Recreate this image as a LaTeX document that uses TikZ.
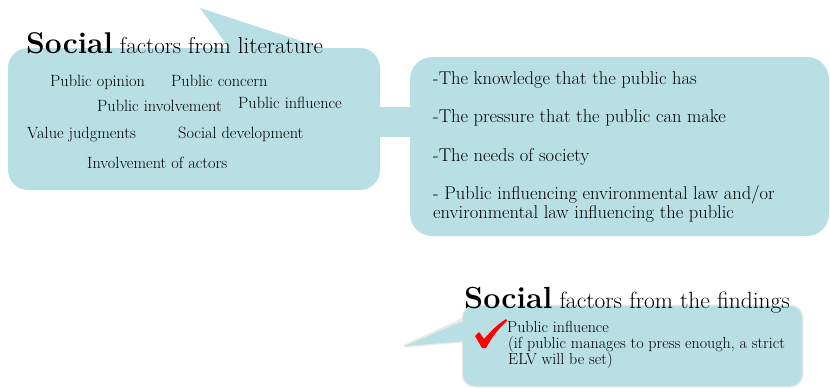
\documentclass[tikz,border=0pt]{standalone}
\usepackage{fontspec}
\setmainfont{Latin Modern Roman}
\begin{document}
\begin{tikzpicture}[x=1pt,y=-1pt,
  item/.style={anchor=base west,inner sep=0pt,font=\fontsize{16.3}{19}\selectfont},
  itembig/.style={anchor=base west,inner sep=0pt,font=\fontsize{18.5}{22}\selectfont},
  itemsm/.style={anchor=base west,inner sep=0pt,font=\fontsize{16}{18}\selectfont},
  heading/.style={anchor=base west,inner sep=0pt,font=\fontsize{23}{26}\selectfont}]
\definecolor{bubblefill}{RGB}{184,223,228}
\definecolor{rimgray}{RGB}{232,232,232}
\useasboundingbox (0,0) rectangle (830,388);
% box 1 with tail
\fill[bubblefill] (200,8) -- (335,52) -- (232,52) -- cycle;
\fill[bubblefill,rounded corners=20pt] (8,48) rectangle (380,190);
% band between box 1 and box 2
\fill[bubblefill] (375,107) rectangle (415,137);
% box 2
\fill[bubblefill,rounded corners=22pt] (410,57) rectangle (829,236);
% box 3 with rim and tail
\draw[rimgray,line width=3pt,line join=round] (405,346) -- (462,320) -- (462,341) -- cycle;
\draw[rimgray,line width=3pt,rounded corners=12pt] (463,306) rectangle (802,386);
\fill[bubblefill] (405,346) -- (466,320) -- (466,341) -- cycle;
\fill[bubblefill,rounded corners=12pt] (463,306) rectangle (802,386);
% headings
\node[heading] (h1) at (26,53) {{\fontsize{30}{32}\selectfont\bfseries Social} factors from literature};
\node[heading,font=\fontsize{23.5}{26}\selectfont] (h2) at (464,308) {{\fontsize{30.5}{32}\selectfont\bfseries Social} factors from the findings};
% box 1 items
\node[item] (a1) at (50,86) {Public opinion};
\node[item] (a2) at (171,86) {Public concern};
\node[item] (a3) at (97,111) {Public involvement};
\node[item] (a4) at (238,108) {Public influence};
\node[item] (a5) at (27,138) {Value judgments};
\node[item] (a6) at (178,138) {Social development};
\node[item] (a7) at (87,168) {Involvement of actors};
% box 2 items
\node[itembig] (b1) at (433,84) {-The knowledge that the public has};
\node[itembig] (b2) at (433,122) {-The pressure that the public can make};
\node[itembig] (b3) at (433,161) {-The needs of society};
\node[itembig] (b4) at (433,199) {- Public influencing environmental law and/or};
\node[itembig] (b5) at (433,218) {environmental law influencing the public};
% box 3 items
\fill[red] (475,336) -- (479,332) -- (484,339) .. controls (491,331) and (498,324) .. (506,319) -- (507,321) .. controls (499,328) and (492,337) .. (486,348) -- (482,348) -- cycle;
\node[itemsm] (c1) at (507,332) {Public influence};
\node[itemsm] (c2) at (508,348) {(if public manages to press enough, a strict};
\node[itemsm] (c3) at (508,364) {ELV will be set)};
\end{tikzpicture}
\end{document}
